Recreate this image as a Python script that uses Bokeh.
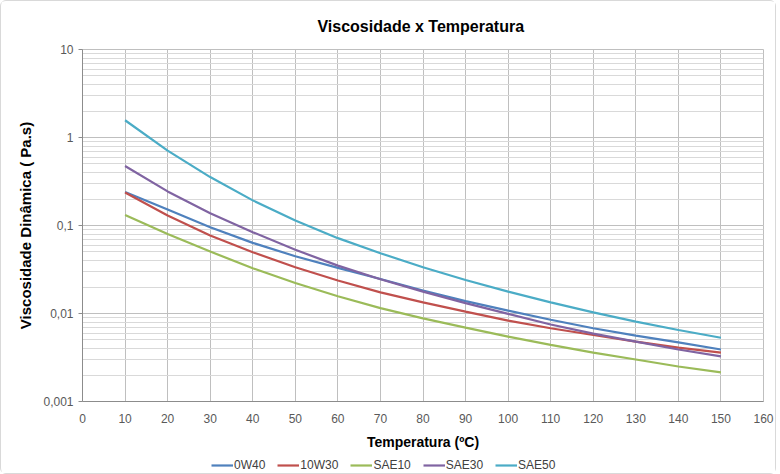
from bokeh.plotting import figure
from bokeh.layouts import column
from bokeh.models import Legend, LegendItem, LogTicker, FixedTicker, Range1d
from bokeh.embed import file_html
from bokeh.resources import INLINE

temperatura = [10, 20, 30, 40, 50, 60, 70, 80, 90, 100, 110, 120, 130, 140, 150]

ow40 = [0.240, 0.152, 0.0957, 0.0635, 0.0448, 0.0330, 0.0247, 0.0182, 0.0138, 0.0108,
        0.0085, 0.0068, 0.0056, 0.0047, 0.0039]
w10w30 = [0.237, 0.130, 0.0770, 0.0497, 0.0336, 0.0237, 0.0174, 0.0134, 0.0105, 0.0083,
          0.0068, 0.0057, 0.0048, 0.0041, 0.0036]
sae10 = [0.132, 0.080, 0.0506, 0.0327, 0.0222, 0.0157, 0.0115, 0.0088, 0.0069, 0.00545,
         0.0044, 0.0036, 0.0030, 0.0025, 0.00214]
sae30 = [0.474, 0.244, 0.138, 0.084, 0.053, 0.035, 0.0245, 0.0177, 0.0131, 0.0099,
         0.0075, 0.0059, 0.0048, 0.0039, 0.00325]
sae50 = [1.57, 0.71, 0.355, 0.193, 0.114, 0.0718, 0.0484, 0.0336, 0.0240, 0.0177,
         0.0134, 0.0103, 0.0081, 0.0065, 0.0053]

series_names = ["0W40", "10W30", "SAE10", "SAE30", "SAE50"]
series_values = [ow40, w10w30, sae10, sae30, sae50]
series_colors = ["#4F81BD", "#C0504D", "#9BBB59", "#8064A2", "#4BACC6"]

x_ticks = [0, 10, 20, 30, 40, 50, 60, 70, 80, 90, 100, 110, 120, 130, 140, 150, 160]
y_tick_values = [0.001, 0.01, 0.1, 1, 10]
y_tick_labels = ["0,001", "0,01", "0,1", "1", "10"]

FONT = "Liberation Sans"

p = figure(width=774, height=452, output_backend="svg", toolbar_location=None,
           y_axis_type="log", x_range=Range1d(0, 160), y_range=Range1d(0.001, 10),
           min_border_left=81, min_border_right=12, min_border_top=47, min_border_bottom=52)

p.title.text = "Viscosidade x  Temperatura"
p.title.align = "center"
p.title.text_font = FONT
p.title.text_font_size = "16px"
p.title.text_font_style = "bold"
p.title.text_color = "#000000"
p.title.standoff = 29

p.outline_line_color = "#bfbfbf"
p.background_fill_color = "white"
p.border_fill_color = "white"

# x axis
p.xaxis.ticker = FixedTicker(ticks=x_ticks)
p.xaxis.axis_label = "Temperatura (ºC)"
p.xaxis.axis_label_text_font = FONT
p.xaxis.axis_label_text_font_size = "14px"
p.xaxis.axis_label_text_font_style = "bold"
p.xaxis.axis_label_text_color = "#000000"
p.xaxis.axis_label_standoff = 8
p.xaxis.major_label_text_font = FONT
p.xaxis.major_label_text_font_size = "12px"
p.xaxis.major_label_text_color = "#595959"
p.xaxis.major_label_standoff = 12
p.xaxis.major_tick_out = 0
p.xaxis.major_tick_in = 0
p.xaxis.minor_tick_out = 0
p.xaxis.minor_tick_in = 0
p.xaxis.axis_line_color = "#8c8c8c"

# y axis
p.yaxis.ticker = LogTicker(num_minor_ticks=10)
p.yaxis.major_label_overrides = {v: s for v, s in zip(y_tick_values, y_tick_labels)}
p.yaxis.axis_label = "Viscosidade Dinâmica ( Pa.s)"
p.yaxis.axis_label_text_font = FONT
p.yaxis.axis_label_text_font_size = "15px"
p.yaxis.axis_label_text_font_style = "bold"
p.yaxis.axis_label_text_color = "#000000"
p.yaxis.axis_label_standoff = 6
p.yaxis.major_label_text_font = FONT
p.yaxis.major_label_text_font_size = "12px"
p.yaxis.major_label_text_color = "#595959"
p.yaxis.major_label_standoff = 5
p.yaxis.major_tick_out = 4
p.yaxis.major_tick_in = 0
p.yaxis.minor_tick_out = 0
p.yaxis.minor_tick_in = 0
p.yaxis.axis_line_color = "#8c8c8c"
p.yaxis.major_tick_line_color = "#8c8c8c"

# grids
p.xgrid.ticker = FixedTicker(ticks=x_ticks)
p.xgrid.grid_line_color = "#bfbfbf"
p.ygrid.grid_line_color = "#bfbfbf"
p.ygrid.minor_grid_line_color = "#d9d9d9"

for name, vals, col in zip(series_names, series_values, series_colors):
    p.line(temperatura, vals, line_color=col, line_width=2.2)

# legend strip below the chart (its lines lie outside its own ranges; only the legend shows)
lg = figure(width=774, height=20, output_backend="svg", toolbar_location=None,
            x_range=Range1d(0, 1), y_range=Range1d(0, 1),
            x_axis_location=None, y_axis_location=None,
            min_border_left=0, min_border_right=0, min_border_top=0, min_border_bottom=0)
lg.grid.visible = False
lg.outline_line_color = None
lg.background_fill_color = "white"
lg.border_fill_color = "white"

items = []
for name, vals, col in zip(series_names, series_values, series_colors):
    r = lg.line(temperatura, vals, line_color=col, line_width=2.2)
    items.append(LegendItem(label=name, renderers=[r]))

legend = Legend(items=items, orientation="horizontal", location=(129, 1),
                label_text_font=FONT, label_text_font_size="12px",
                label_text_color="#404040", glyph_width=22, glyph_height=10,
                label_standoff=1, spacing=12, padding=0, margin=0,
                border_line_color=None, background_fill_alpha=0)
lg.add_layout(legend, "center")

layout = column(p, lg, spacing=0)
layout.styles = {"border": "1px solid #d9d9d9", "border-radius": "6px", "background": "white"}

open("out.html", "w").write(file_html(layout, INLINE))
